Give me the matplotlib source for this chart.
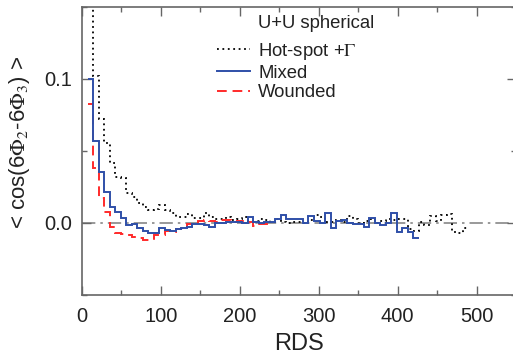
import matplotlib
matplotlib.use('Agg')
import matplotlib.pyplot as plt
import numpy as np
from matplotlib.ticker import MultipleLocator, FixedLocator

plt.rcParams['font.family'] = ['Liberation Sans', 'DejaVu Sans']
plt.rcParams['mathtext.fontset'] = 'stix'

# Histogram bins: width 7 in RDS, first bin starts at 7
bin_width = 7

mixed = [0.100, 0.057, 0.0356, 0.0217, 0.0109, 0.0076, 0.0037, -0.0016, -0.0009, -0.0037,
         -0.0053, -0.0072, -0.0067, -0.0037, -0.005, -0.0055, -0.004, -0.0035, -0.0025, -0.0008,
         -0.0008, -0.0015, -0.0025, 0.0, 0.0, 0.001, 0.001, 0.0005, 0.0, 0.0044,
         0.0005, 0.0, 0.001, 0.001, 0.003, 0.0055, 0.0028, 0.0028, 0.003, 0.0,
         0.0049, 0.0015, 0.0, 0.0072, -0.0037, 0.0015, 0.002, 0.0, -0.001, -0.0005,
         -0.0025, 0.0033, 0.0, -0.0014, 0.0, 0.0067, -0.006, -0.0037, -0.006, -0.0106]

wounded = [0.0824, 0.038, 0.0176, 0.0078, -0.003, -0.0072, -0.0075, -0.0085, -0.0099, -0.0105,
           -0.0118, -0.0115, -0.008, -0.0082, -0.0055, -0.006, -0.0045, -0.004, -0.001, -0.0005,
           0.0015, 0.002, 0.0015, 0.001, 0.002, 0.002, 0.0005, 0.0016, 0.0016, 0.001,
           -0.002, -0.0007, -0.0007]

hotspot = [0.25, 0.102, 0.072, 0.0555, 0.0417, 0.032, 0.031, 0.0208, 0.018, 0.0139,
           0.011, 0.009, 0.0095, 0.0125, 0.009, 0.007, 0.0044, 0.0044, 0.006, 0.0035,
           0.0035, 0.007, 0.004, 0.003, 0.003, 0.0045, 0.002, 0.003, 0.0044, 0.0015,
           0.0015, 0.003, 0.002, 0.001, 0.0025, 0.0005, 0.0, 0.001, 0.0008, -0.0003,
           0.002, 0.0055, 0.004, 0.0008, 0.001, 0.002, 0.0005, 0.005, 0.003, 0.0,
           0.0012, 0.0025, 0.0, 0.0015, 0.003, 0.002, 0.0025, 0.0025, -0.004, -0.0055,
           0.0005, -0.0015, 0.005, 0.0015, 0.0055, 0.0065, -0.006, -0.007, -0.0035]


def edges(vals):
    return bin_width * np.arange(1, len(vals) + 2)


fig = plt.figure(figsize=(5.13, 3.61), dpi=100)
ax = fig.add_axes([82 / 513, 66 / 361, 434 / 513, 288 / 361])

gray = '#666666'
txt = '#222222'
ax.axhline(0, color='#888888', lw=1.2, ls=(0, (8, 3, 1.5, 3)), zorder=1)

ax.stairs(hotspot, edges(hotspot), baseline=None, color='black', lw=1.3,
          ls=(0, (1, 2)), label=r'Hot-spot +$\Gamma$', zorder=2)
ax.stairs(mixed, edges(mixed), baseline=None, color='#2f4fa8', lw=1.4,
          label='Mixed', zorder=4)
ax.stairs(wounded, edges(wounded), baseline=None, color='#ff2a2a', lw=1.4,
          ls=(0, (5, 3)), label='Wounded', zorder=3)

ax.set_xlim(0, 550)
ax.set_ylim(-0.05, 0.15)

ax.xaxis.set_major_locator(MultipleLocator(100))
ax.xaxis.set_minor_locator(MultipleLocator(50))
ax.yaxis.set_major_locator(FixedLocator([0.0, 0.1]))
ax.yaxis.set_minor_locator(FixedLocator([-0.05, 0.05, 0.15]))
ax.yaxis.set_major_formatter(matplotlib.ticker.FormatStrFormatter('%.1f'))

ax.tick_params(which='both', direction='in', top=True, right=True, color=gray,
               labelsize=14.5, labelcolor=txt)
ax.tick_params(which='major', length=6.5, width=1.0)
ax.tick_params(axis='x', which='major', pad=9)
ax.tick_params(axis='y', which='major', pad=7)
ax.tick_params(which='minor', length=3.5, width=1.0)
for sp in ax.spines.values():
    sp.set_color(gray)
    sp.set_linewidth(1.2)

ax.set_xlabel('RDS', fontsize=17, color=txt, labelpad=5)
ax.set_ylabel(r'< cos(6$\Phi_2$-6$\Phi_3$) >', fontsize=16, color=txt)
ax.yaxis.set_label_coords(-0.115, 0.53)

fig.text(258 / 513, 1 - 23 / 361, 'U+U spherical', fontsize=13.3, color=txt,
         ha='left', va='center')
leg = ax.legend(loc='upper left', bbox_to_anchor=(204 / 513, 1 - 28 / 361),
                bbox_transform=fig.transFigure, frameon=False, fontsize=13.3,
                handlelength=1.8, handletextpad=0.43, labelspacing=0.15,
                borderpad=0.2)
for t in leg.get_texts():
    t.set_color(txt)

fig.savefig('out.png', dpi=100)
